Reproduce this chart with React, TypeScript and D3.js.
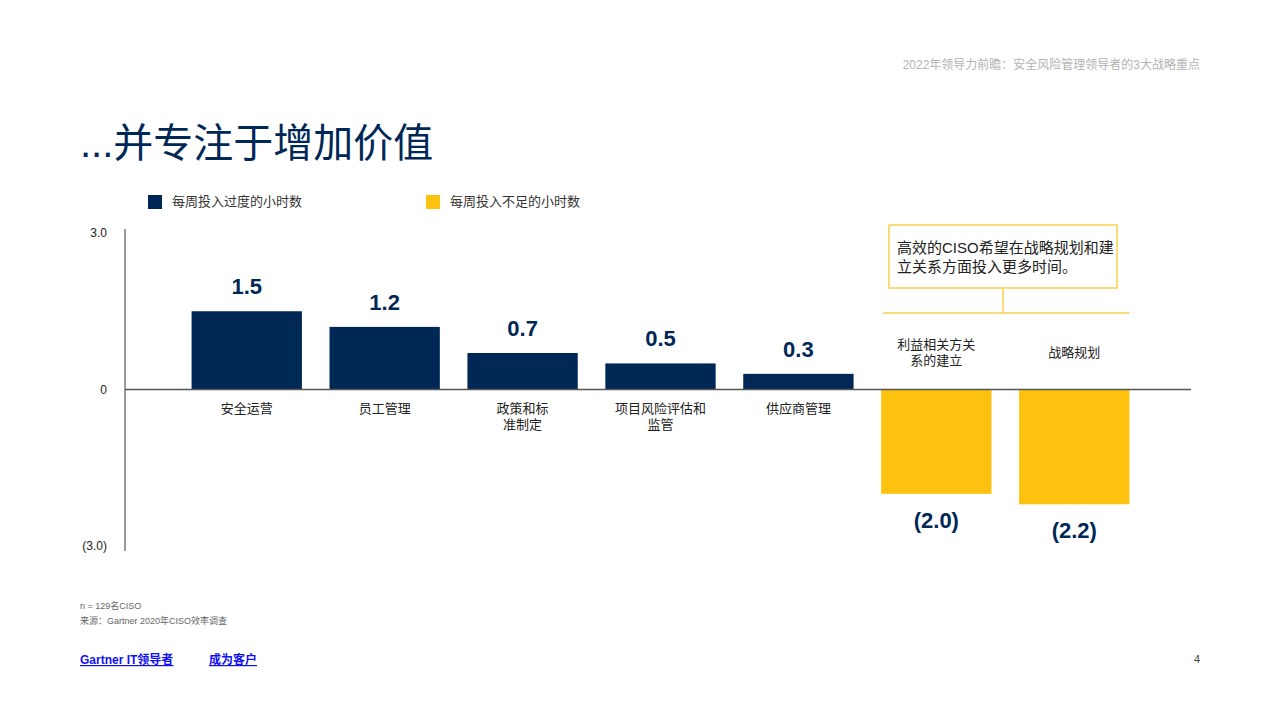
import { useEffect, useRef } from "react";
import * as d3 from "d3";

const categories = [
  "安全运营",
  "员工管理",
  "政策和标准制定",
  "项目风险评估和监管",
  "供应商管理",
  "利益相关方关系的建立",
  "战略规划",
];
const categoryLines = [
  ["安全运营"],
  ["员工管理"],
  ["政策和标", "准制定"],
  ["项目风险评估和", "监管"],
  ["供应商管理"],
  ["利益相关方关", "系的建立"],
  ["战略规划"],
];
const values = [1.5, 1.2, 0.7, 0.5, 0.3, -2.0, -2.2];
const yTicks = [3, 0, -3];
const legendLabels = ["每周投入过度的小时数", "每周投入不足的小时数"];
const calloutLines = ["高效的CISO希望在战略规划和建", "立关系方面投入更多时间。"];

const NAVY = "#002856";
const YELLOW = "#fdc20f";
const FONT = "'Liberation Sans', 'Noto Sans CJK SC', sans-serif";

const fmt = (v: number) => (v < 0 ? `(${Math.abs(v).toFixed(1)})` : v.toFixed(1));

export default function App() {
  const svgRef = useRef<SVGSVGElement>(null);

  useEffect(() => {
    if (!svgRef.current) return;
    document.body.style.margin = "0";
    const svg = d3.select(svgRef.current);
    svg.selectAll("*").remove();
    svg.attr("font-family", FONT);

    const x = d3.scaleBand<string>().domain(categories).range([164, 1157]).padding(0.2);
    const y = d3.scaleLinear().domain([-3, 3]).range([546, 233]);

    // header
    svg.append("text").attr("x", 1200).attr("y", 69).attr("text-anchor", "end")
      .attr("font-size", 12).attr("fill", "#b3b3b3")
      .text("2022年领导力前瞻：安全风险管理领导者的3大战略重点");

    svg.append("text").attr("x", 80).attr("y", 157).attr("font-size", 40)
      .attr("fill", NAVY).text("...并专注于增加价值");

    // legend
    const legend = svg.append("g");
    [NAVY, YELLOW].forEach((c, i) => {
      const lx = i === 0 ? 148 : 426;
      legend.append("rect").attr("x", lx).attr("y", 195).attr("width", 14).attr("height", 14).attr("fill", c);
      legend.append("text").attr("x", lx + 24).attr("y", 206).attr("font-size", 13)
        .attr("fill", "#333").text(legendLabels[i]);
    });

    // y axis
    svg.append("line").attr("x1", 125).attr("x2", 125).attr("y1", 229).attr("y2", 551)
      .attr("stroke", "#333").attr("stroke-width", 1);
    svg.selectAll(".ytick").data(yTicks).enter().append("text")
      .attr("x", 107).attr("y", (d) => y(d) + 4).attr("text-anchor", "end")
      .attr("font-size", 12).attr("fill", "#222").text((d) => (d < 0 ? `(${Math.abs(d).toFixed(1)})` : d === 0 ? "0" : d.toFixed(1)));

    // bars
    svg.selectAll(".bar").data(values).enter().append("rect")
      .attr("x", (_, i) => x(categories[i])!)
      .attr("width", x.bandwidth())
      .attr("y", (d) => y(Math.max(0, d)))
      .attr("height", (d) => Math.abs(y(d) - y(0)))
      .attr("fill", (d) => (d < 0 ? YELLOW : NAVY));

    // zero line
    svg.append("line").attr("x1", 125).attr("x2", 1191).attr("y1", y(0)).attr("y2", y(0))
      .attr("stroke", "#555").attr("stroke-width", 1.5);

    // value labels
    svg.selectAll(".val").data(values).enter().append("text")
      .attr("x", (_, i) => x(categories[i])! + x.bandwidth() / 2)
      .attr("y", (d) => (d < 0 ? y(d) + 34 : y(d) - 17))
      .attr("text-anchor", "middle").attr("font-size", 22).attr("font-weight", "bold")
      .attr("fill", NAVY).text((d) => fmt(d));

    // category labels
    categoryLines.forEach((lines, i) => {
      const cx = x(categories[i])! + x.bandwidth() / 2;
      const neg = values[i] < 0;
      const y0 = neg ? y(0) - 33 - (lines.length - 1) * 7.5 : y(0) + 23;
      lines.forEach((l, j) => {
        svg.append("text").attr("x", cx).attr("y", y0 + j * 16).attr("text-anchor", "middle")
          .attr("font-size", 13).attr("fill", "#222").text(l);
      });
    });

    // callout
    const bx0 = x(categories[5])! + 2;
    const bx1 = x(categories[6])! + x.bandwidth();
    svg.append("rect").attr("x", 889).attr("y", 225).attr("width", 228).attr("height", 63)
      .attr("fill", "none").attr("stroke", "#f9cf4c").attr("stroke-width", 1.5);
    calloutLines.forEach((l, j) => {
      svg.append("text").attr("x", 897).attr("y", 253 + j * 19).attr("font-size", 15)
        .attr("fill", "#222").text(l);
    });
    svg.append("line").attr("x1", 1003).attr("x2", 1003).attr("y1", 288).attr("y2", 313)
      .attr("stroke", "#f9cf4c").attr("stroke-width", 1.5);
    svg.append("line").attr("x1", bx0).attr("x2", bx1).attr("y1", 313).attr("y2", 313)
      .attr("stroke", "#f9cf4c").attr("stroke-width", 1.5);

    // footnotes
    svg.append("text").attr("x", 80).attr("y", 609).attr("font-size", 9).attr("fill", "#666").text("n = 129名CISO");
    svg.append("text").attr("x", 80).attr("y", 624).attr("font-size", 9).attr("fill", "#666").text("来源：Gartner 2020年CISO效率调查");

    // links
    [["Gartner IT领导者", 80], ["成为客户", 209]].forEach(([t, lx]) => {
      svg.append("text").attr("x", lx as number).attr("y", 664).attr("font-size", 12)
        .attr("font-weight", "bold").attr("fill", "#1010f0").attr("text-decoration", "underline")
        .text(t as string);
    });
    svg.append("text").attr("x", 1200).attr("y", 663).attr("text-anchor", "end")
      .attr("font-size", 11).attr("fill", "#444").text("4");
  }, []);

  return <svg ref={svgRef} width={1279} height={719} style={{ display: "block" }} />;
}
